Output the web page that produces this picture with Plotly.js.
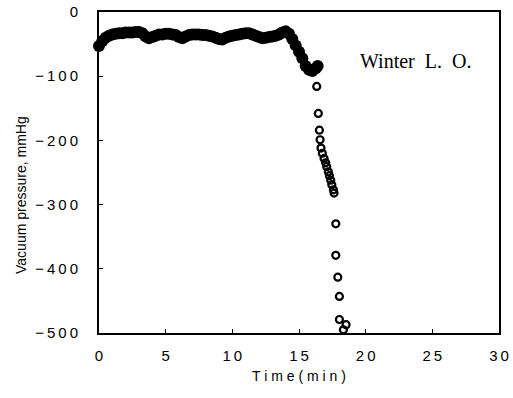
<!DOCTYPE html>
<html>
<head>
<meta charset="utf-8">
<script src="https://cdn.plot.ly/plotly-3.0.1.min.js"></script>
<style>html,body{margin:0;padding:0;background:#fff;}</style>
</head>
<body>
<div id="chart" style="width:513px;height:398px;"></div>
<script>
// Dense early readings (filled-looking band)
const denseTime = [0,0.25,0.5,0.75,1.0,1.25,1.5,1.75,2.0,2.25,2.5,2.75,3.0,3.25,3.5,3.75,4.0,4.25,4.5,4.75,5.0,5.25,5.5,5.75,6.0,6.25,6.5,6.75,7.0,7.25,7.5,7.75,8.0,8.25,8.5,8.75,9.0,9.25,9.5,9.75,10.0,10.25,10.5,10.75,11.0,11.25,11.5,11.75,12.0,12.25,12.5,12.75,13.0,13.25,13.5,13.75,14.0,14.25,14.5,14.75,15.0,15.25,15.5,15.75,16.0,16.25,16.4];
const densePressure = [-53,-45,-40,-37,-35,-34,-33,-33,-32,-32,-32,-31,-31,-33,-38,-41,-39,-37,-35,-35,-34,-34,-35,-36,-39,-41,-38,-36,-35,-35,-35,-36,-36,-37,-38,-40,-42,-43,-40,-38,-37,-36,-35,-34,-33,-33,-35,-37,-39,-41,-40,-39,-38,-37,-35,-32,-30,-34,-42,-52,-62,-72,-84,-90,-92,-88,-84];
// Sparse later readings (open circles)
const sparseTime = [16.33,16.45,16.53,16.58,16.65,16.75,16.88,17.0,17.08,17.2,17.28,17.38,17.46,17.58,17.63,17.76,17.76,17.91,18.03,18.03,18.53,18.33];
const sparsePressure = [-116,-158,-184,-199,-212,-220,-228,-235,-241,-249,-255,-262,-269,-277,-282,-330,-379,-413,-443,-479,-487,-495];
const xTicks = [0,5,10,15,20,25,30];
const xTickText = ['0','5','1\u20090','1\u20095','2\u20090','2\u20095','3\u20090'];
const yTicks = [0,-100,-200,-300,-400,-500];
const yTickText = ['0','\u2212\u20091\u20090\u20090','\u2212\u20092\u20090\u20090','\u2212\u20093\u20090\u20090','\u2212\u20094\u20090\u20090','\u2212\u20095\u20090\u20090'];
const labelText = "Winter&nbsp; L.&nbsp; O.";
const yTitle = "Vacuum pressure, mmHg";

const traces = [
  {x: denseTime, y: densePressure, mode: 'markers', type: 'scatter',
   marker: {symbol: 'circle', size: 12, color: '#000'}, cliponaxis: false},
  {x: sparseTime, y: sparsePressure, mode: 'markers', type: 'scatter',
   marker: {symbol: 'circle-open', size: 7, color: '#000', line: {width: 2.2, color: '#000'}}, cliponaxis: false}
];
const layout = {
  width: 513, height: 398,
  margin: {l: 99, r: 14, t: 12, b: 65},
  paper_bgcolor: '#fff', plot_bgcolor: '#fff',
  showlegend: false,
  font: {family: 'Liberation Sans, Arial, sans-serif', color: '#000', size: 15},
  xaxis: {range: [0, 30], tickvals: xTicks, ticktext: xTickText, ticks: 'inside', ticklen: 4, tickwidth: 1, tickcolor: '#000',
          showline: true, linecolor: '#000', linewidth: 2, mirror: true, showgrid: false, zeroline: false,
          ticklabelstandoff: 8, tickfont: {size: 15},
          title: {text: 'T i m e ( m i n )', font: {size: 14}, standoff: 8}},
  yaxis: {range: [-500, 0], tickvals: yTicks, ticktext: yTickText, ticks: 'inside', ticklen: 4, tickwidth: 1, tickcolor: '#000',
          showline: true, linecolor: '#000', linewidth: 2, mirror: true, showgrid: false, zeroline: false,
          ticklabelstandoff: 16, tickfont: {size: 15}},
  annotations: [
    {x: 0.935, y: 0.847, xref: 'paper', yref: 'paper', xanchor: 'right', yanchor: 'middle',
     text: labelText, showarrow: false, font: {family: 'Liberation Serif, Times New Roman, serif', size: 20, color: '#000'}},
    {x: -0.195, y: 0.43, xref: 'paper', yref: 'paper', xanchor: 'center', yanchor: 'middle', textangle: -90,
     text: yTitle, showarrow: false, font: {size: 14, color: '#000'}}
  ]
};
Plotly.newPlot('chart', traces, layout, {displayModeBar: false, staticPlot: true});
</script>
</body>
</html>
